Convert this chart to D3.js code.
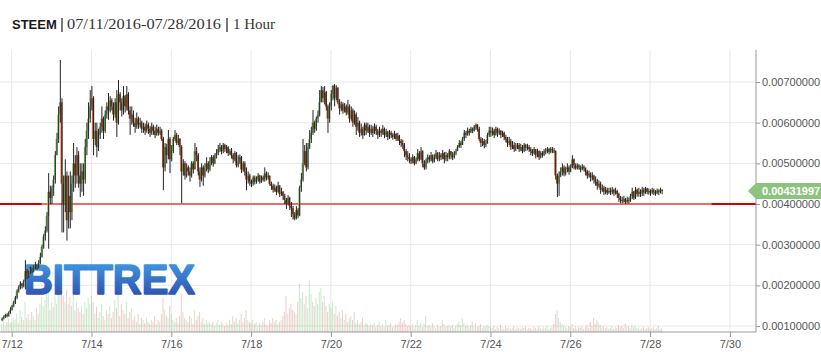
<!DOCTYPE html>
<html>
<head>
<meta charset="utf-8">
<script src="https://cdn.jsdelivr.net/npm/d3@7"></script>
<style>
  body { margin: 0; background: #fff; }
  svg { display: block; }
  .tick text { font-family: "Liberation Sans", Arial, sans-serif; font-size: 11px; fill: #555; }
</style>
</head>
<body>
<div class="chart"></div>
<script>
/* globals d3 */

// hourly candles, prices in 1e-5 BTC, first candle 07/11 18:00
const startTime = new Date(2016, 6, 11, 18)
const firstOpen = 115

const closes = [
  118,122,127,125,133,140,
  150,158,170,186,195,204,198,210,235,222,230,240,236,245,250,244,255,270,295,320,335,370,430,415,
  440,460,520,560,620,650,450,400,470,360,420,380,450,500,470,520,470,450,480,460,540,580,610,640,
  660,560,580,540,570,590,610,580,620,640,630,655,640,620,650,600,670,650,630,665,640,670,630,610,
  620,600,590,610,595,600,585,590,580,595,585,575,590,580,570,585,575,580,560,490,540,520,560,510,
  530,560,570,550,560,540,480,500,470,490,480,470,500,485,530,520,480,460,490,470,490,500,485,505,
  515,500,520,525,535,540,530,545,535,540,525,530,520,510,525,495,505,515,485,500,480,460,470,455,
  450,465,455,460,470,455,465,460,475,465,470,450,445,435,440,430,445,425,430,420,410,400,415,395,
  390,375,365,385,372,440,460,500,530,490,540,560,575,600,585,610,620,650,680,660,675,640,610,640,
  670,690,660,685,650,635,645,630,640,625,640,610,630,600,620,590,600,575,585,570,595,580,590,575,
  585,575,590,580,570,580,575,585,570,578,565,575,570,565,572,560,568,555,550,545,530,520,515,510,
  505,515,500,510,525,510,530,500,490,505,515,510,520,505,515,525,510,520,515,525,510,520,515,530,
  520,515,525,530,540,550,545,560,575,570,580,575,585,580,590,595,585,560,550,555,545,550,570,580,
  575,580,570,585,575,580,570,575,565,560,550,555,540,545,535,540,545,535,540,530,545,538,540,535,
  530,525,535,520,530,515,525,520,530,530,535,528,535,532,530,470,450,470,480,490,475,485,490,480,
  490,510,495,488,495,490,485,492,488,480,470,475,465,470,460,455,445,450,435,440,430,435,428,432,
  430,435,428,432,425,415,410,408,412,405,410,408,420,430,415,435,425,430,425,435,428,438,430,432,
  428,434,430,426,433,429,435,431.997
]

const highs = [
  121,126,130,131,136,146,
  152,162,174,190,200,210,206,214,262,240,236,246,244,250,258,252,262,280,300,326,345,380,476,445,
  445,470,530,575,640,754,660,470,510,480,470,480,470,550,520,540,530,500,500,500,560,600,650,680,
  690,665,600,600,585,600,640,615,630,650,673,665,660,650,660,680,705,675,660,690,668,690,675,640,
  640,630,612,625,615,612,605,600,598,605,600,592,600,595,590,595,590,590,585,565,550,548,582,565,
  545,565,582,575,570,562,545,510,505,500,495,490,505,505,550,540,525,490,500,495,500,515,505,515,
  520,520,525,535,545,550,545,550,548,545,542,535,538,525,530,528,520,522,518,505,505,490,480,475,
  460,470,470,468,476,472,470,470,490,480,478,470,455,450,448,445,455,447,440,432,425,415,422,418,
  405,395,380,395,390,445,476,560,545,550,550,582,590,631,605,615,630,680,690,688,690,678,645,650,
  680,693,695,692,688,658,652,650,648,645,656,645,640,635,630,625,614,605,598,590,600,600,600,595,
  595,592,598,595,585,590,585,594,588,585,580,582,580,575,580,575,575,570,560,558,550,535,530,525,
  515,522,518,515,535,530,540,532,508,512,522,520,528,522,522,533,528,528,525,533,528,528,525,535,
  530,528,530,535,545,557,555,565,582,580,588,585,590,588,594,598,596,590,565,562,560,558,575,590,
  590,588,585,590,588,586,582,580,578,570,565,565,560,555,552,550,550,550,548,545,550,548,548,545,
  540,535,540,535,536,532,530,530,535,538,540,538,540,540,538,532,475,480,490,500,495,492,500,495,
  498,520,512,500,500,498,495,498,495,490,484,482,478,478,472,468,462,458,455,448,445,442,440,440,
  440,442,438,440,435,428,420,418,420,415,418,416,425,440,432,442,438,440,436,442,440,442,440,438,
  436,440,438,434,438,436,440,436
]

const lows = [
  112,116,120,121,123,130,
  138,146,154,166,182,190,192,195,190,215,218,228,230,232,240,238,242,252,268,290,310,330,290,400,
  400,420,450,520,550,600,330,330,380,310,340,340,360,430,440,450,440,417,430,420,450,520,560,600,
  630,520,545,515,530,560,575,560,575,610,607,625,630,605,612,565,595,630,615,620,625,630,620,570,
  595,590,575,585,585,588,575,575,570,575,572,565,570,570,562,568,568,570,555,434,480,500,510,476,
  505,525,555,545,545,520,402,470,460,465,470,455,465,475,485,505,470,442,455,445,465,480,476,480,
  495,492,498,512,520,528,522,525,528,525,518,520,512,500,505,490,490,498,476,480,470,434,450,445,
  442,445,448,450,455,450,452,455,455,458,460,445,435,428,430,422,428,417,420,410,400,388,398,385,
  368,362,360,362,365,370,430,455,495,480,485,535,550,570,575,580,600,615,650,650,645,630,575,600,
  630,655,640,655,645,620,628,622,625,618,620,600,605,590,595,570,580,565,568,560,568,570,575,565,
  570,565,572,570,560,565,565,570,562,565,557,560,562,558,560,555,555,545,540,535,515,508,505,500,
  498,500,495,498,505,505,508,490,484,485,500,502,505,500,502,510,505,505,508,510,500,505,505,510,
  510,508,512,520,530,538,538,545,555,562,568,568,575,574,578,582,578,555,540,542,537,540,548,565,
  565,568,562,568,565,570,562,565,557,552,540,545,533,535,528,530,535,528,530,525,528,530,532,528,
  520,518,522,512,515,508,512,514,518,522,525,522,525,525,525,460,417,420,466,470,468,470,478,472,
  478,488,485,484,485,484,478,483,480,470,462,465,455,458,450,445,435,440,425,430,422,424,422,425,
  422,424,420,423,415,405,402,402,403,400,402,401,405,412,410,412,418,418,417,420,420,425,424,423,
  420,424,422,420,424,422,426,424
]

const volumes = [
  8,12,6,10,14,9,
  10,14,12,18,9,22,15,12,30,14,18,12,20,16,12,24,18,28,35,26,32,45,40,22,
  30,25,38,28,40,48,45,36,30,42,28,35,26,38,22,30,24,20,26,18,30,24,34,28,
  36,30,18,25,14,20,28,16,12,22,18,26,14,20,32,24,38,16,28,22,18,30,14,20,
  24,12,16,10,18,8,14,12,9,15,10,8,12,10,16,8,12,10,18,34,22,16,14,26,
  18,12,10,14,9,16,38,20,14,12,10,16,14,8,22,12,16,20,10,14,8,12,9,10,
  8,10,6,9,12,7,10,8,6,9,7,12,8,16,10,14,9,12,18,10,14,22,12,10,
  9,12,8,10,6,9,7,10,14,8,6,12,9,14,10,12,8,10,12,16,20,36,18,24,
  28,22,20,18,30,48,34,40,28,36,24,52,38,30,26,34,28,40,44,30,36,26,20,28,
  24,30,18,26,16,20,14,22,12,18,10,14,16,12,20,9,12,8,10,14,7,9,8,6,
  8,6,9,5,7,10,6,8,5,12,6,7,9,5,6,8,7,10,14,9,12,8,6,7,
  6,8,5,7,12,6,9,5,8,16,6,7,5,9,6,4,7,5,6,12,8,5,6,7,
  5,7,4,6,8,10,7,14,9,6,8,5,7,10,6,9,5,6,8,4,6,5,7,6,
  5,4,6,3,5,4,7,5,3,6,4,5,3,4,6,3,5,4,3,5,4,6,3,4,
  4,3,5,4,3,6,4,3,5,4,6,3,4,5,8,18,22,14,10,8,6,5,4,6,
  5,8,4,6,3,5,4,6,3,5,7,4,10,6,14,8,12,9,7,5,6,4,5,3,
  4,6,3,5,4,7,5,6,4,8,5,6,4,7,5,6,4,5,3,4,5,3,4,5,
  3,4,5,3,4,6,3,4
]

const priceTicks = [0.001, 0.002, 0.003, 0.004, 0.005, 0.006, 0.007]
const dayTicks = [12, 14, 16, 18, 20, 22, 24, 26, 28, 30]
const supportLevel = 0.004
const supportSpan = [new Date(2016, 6, 12, 18), new Date(2016, 6, 29, 13)]
const lastPrice = "0.00431997"

const width = 821, height = 352
const plotRight = 756, plotTop = 50, plotBottom = 332

const candles = closes.map((c, i) => {
  const o = i === 0 ? firstOpen : closes[i - 1]
  return {
    t: d3.timeHour.offset(startTime, i),
    o: o / 1e5, c: c / 1e5,
    h: Math.max(highs[i], o, c) / 1e5,
    l: Math.min(lows[i], o, c) / 1e5,
    v: volumes[i]
  }
})

const x = d3.scaleTime()
  .domain([new Date(2016, 6, 12), new Date(2016, 6, 30)])
  .range([11.7, 729.9])
const y = d3.scaleLinear().domain([0.001, 0.007]).range([326, 82])
const yVol = d3.scaleLinear().domain([0, 55]).range([plotBottom, 277])

const svg = d3.select('.chart').append('svg')
  .attr('width', width)
  .attr('height', height)
  .attr('viewBox', [0, 0, width, height])

// title
const title = svg.append('g')
title.append('text').attr('x', 12).attr('y', 29)
  .attr('font-family', '"Liberation Sans", Arial, sans-serif')
  .attr('font-weight', 'bold').attr('font-size', 13).attr('fill', '#1a1a1a')
  .text('STEEM')
title.append('rect').attr('x', 61).attr('y', 18).attr('width', 2).attr('height', 14).attr('fill', '#777')
title.append('text').attr('x', 67).attr('y', 29)
  .attr('font-family', '"Liberation Serif", Georgia, serif')
  .attr('font-size', 15).attr('fill', '#333')
  .attr('textLength', 154).attr('lengthAdjust', 'spacingAndGlyphs')
  .text('07/11/2016-07/28/2016')
title.append('rect').attr('x', 226).attr('y', 18).attr('width', 2).attr('height', 14).attr('fill', '#777')
title.append('text').attr('x', 233).attr('y', 29)
  .attr('font-family', '"Liberation Serif", Georgia, serif')
  .attr('font-size', 15).attr('fill', '#333')
  .text('1 Hour')

// grid
const dayDates = dayTicks.map(d => new Date(2016, 6, d))
svg.append('g').selectAll('line')
  .data(priceTicks)
  .join('line')
  .attr('x1', 0).attr('x2', plotRight)
  .attr('y1', d => y(d)).attr('y2', d => y(d))
  .attr('stroke', '#e9e9e9')
svg.append('g').selectAll('line')
  .data(dayDates)
  .join('line')
  .attr('x1', d => x(d)).attr('x2', d => x(d))
  .attr('y1', plotTop).attr('y2', plotBottom)
  .attr('stroke', '#e9e9e9')

// volume
svg.append('g').selectAll('rect')
  .data(candles)
  .join('rect')
  .attr('x', d => x(d.t) - 0.5)
  .attr('width', 1)
  .attr('y', d => yVol(d.v))
  .attr('height', d => plotBottom - yVol(d.v))
  .attr('fill', d => d.c >= d.o ? 'rgba(110,190,110,0.35)' : 'rgba(215,110,110,0.35)')

// watermark
const defs = svg.append('defs')
const grad = defs.append('linearGradient').attr('id', 'bx').attr('x1', 0).attr('y1', 0).attr('x2', 0).attr('y2', 1)
grad.append('stop').attr('offset', '0%').attr('stop-color', '#45a6ea')
grad.append('stop').attr('offset', '100%').attr('stop-color', '#2a44a6')
svg.append('text')
  .attr('x', 24).attr('y', 294)
  .attr('font-family', '"Liberation Sans", Arial, sans-serif')
  .attr('font-weight', 'bold').attr('font-size', 43)
  .attr('textLength', 171).attr('lengthAdjust', 'spacingAndGlyphs')
  .attr('fill', 'url(#bx)')
  .attr('stroke', 'url(#bx)').attr('stroke-width', 1.6).attr('stroke-linejoin', 'round')
  .text('BITTREX')

// support line
svg.append('line')
  .attr('x1', 0).attr('x2', plotRight)
  .attr('y1', y(supportLevel)).attr('y2', y(supportLevel))
  .attr('stroke', '#d40000').attr('stroke-width', 2)
svg.append('line')
  .attr('x1', x(supportSpan[0])).attr('x2', x(supportSpan[1]))
  .attr('y1', y(supportLevel)).attr('y2', y(supportLevel))
  .attr('stroke', '#ef6a6a').attr('stroke-width', 2)

// candles
const cg = svg.append('g')
cg.selectAll('rect')
  .data(candles)
  .join('rect')
  .attr('x', d => x(d.t) - 1)
  .attr('width', 2)
  .attr('y', d => y(Math.max(d.o, d.c)))
  .attr('height', d => Math.max(1, Math.abs(y(d.o) - y(d.c))))
  .attr('fill', d => d.c >= d.o ? '#86c06c' : '#c9471c')
cg.selectAll('line')
  .data(candles)
  .join('line')
  .attr('x1', d => x(d.t) + 0.4).attr('x2', d => x(d.t) + 0.4)
  .attr('y1', d => y(d.h)).attr('y2', d => y(d.l))
  .attr('stroke', '#222').attr('stroke-width', 1)

// axes
svg.append('line')
  .attr('x1', plotRight).attr('x2', plotRight)
  .attr('y1', plotTop).attr('y2', plotBottom)
  .attr('stroke', '#999')
svg.append('line')
  .attr('x1', 0).attr('x2', plotRight)
  .attr('y1', plotBottom).attr('y2', plotBottom)
  .attr('stroke', '#999')

const yAxis = svg.append('g')
  .attr('transform', `translate(${plotRight},0)`)
  .call(d3.axisRight(y).tickValues(priceTicks).tickFormat(d3.format('.8f')).tickSize(4).tickPadding(2))
yAxis.select('.domain').remove()
yAxis.selectAll('.tick line').attr('stroke', '#999')

const xAxis = svg.append('g')
  .attr('transform', `translate(0,${plotBottom})`)
  .call(d3.axisBottom(x).tickValues(dayDates).tickFormat(d3.timeFormat('%-m/%-d')).tickSize(5).tickPadding(3))
xAxis.select('.domain').remove()
xAxis.selectAll('.tick line').attr('stroke', '#999')

// last price tag
const ly = y(+lastPrice)
svg.append('path')
  .attr('d', `M748,${ly} L756,${ly - 8} L821,${ly - 8} L821,${ly + 8} L756,${ly + 8} Z`)
  .attr('fill', '#8ec37f')
svg.append('text')
  .attr('x', 762).attr('y', ly + 4)
  .attr('font-family', '"Liberation Sans", Arial, sans-serif')
  .attr('font-weight', 'bold').attr('font-size', 11).attr('fill', '#fff')
  .text(lastPrice)
</script>
</body>
</html>
